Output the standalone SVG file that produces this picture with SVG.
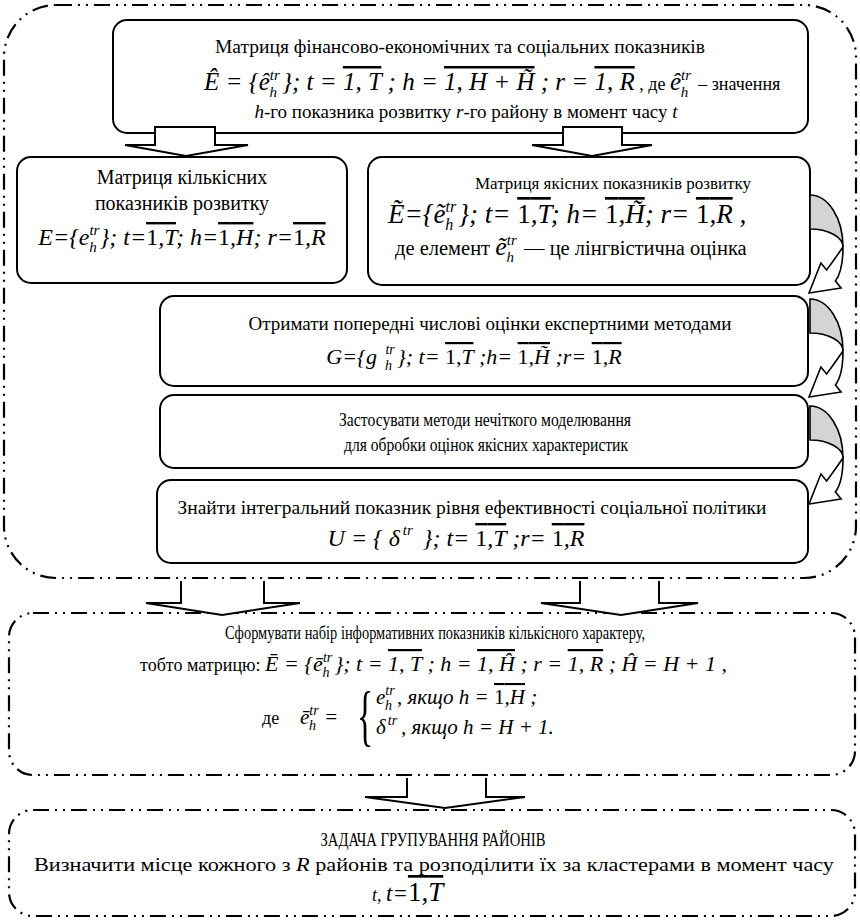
<svg xmlns="http://www.w3.org/2000/svg" width="860" height="920" viewBox="0 0 860 920">
<style>
text { font-family: 'Liberation Serif', 'Times New Roman', serif; fill: #000; font-size: 19px; }
.m { font-style: italic; }
.n { font-style: normal; }
.u { font-style: normal; }
.i { font-style: italic; }
.ov { text-decoration: overline; }
.box { fill: #fff; stroke: #000; stroke-width: 2; }
.dd { fill: none; stroke: #000; stroke-width: 2.2; stroke-dasharray: 16 6 2 6 2 6; }
.ba { fill: #fff; stroke: #000; stroke-width: 2; }
.crs { fill: #d4d4d4; stroke: #000; stroke-width: 1.6; }
.frt { fill: #fff; stroke: #000; stroke-width: 1.6; stroke-linejoin: miter; }
</style>
<defs>
<g id="curv">
<path class="crs" d="M810,0 A33,52 0 0 1 843,52 A33,18 0 0 0 810,34 Z"/>
<path class="frt" d="M843,52 Q843,76 835.4,86 L841.1,93 L809,98 L820.9,68 L826.6,75 Q834,65 843,52 Z"/>
</g>
</defs>

<g id="outer-main"><rect class="dd" x="4" y="5" width="852" height="573" rx="52"/></g>

<g id="n-top">
<rect class="box" x="113" y="20" width="695" height="113" rx="14"/>
<text x="460" y="53" style="font-size:19.5px" text-anchor="middle">Матриця фінансово-економічних та соціальних показників</text>
<text class="m" x="204" y="90" style="font-size:25px">Ê = {ê<tspan style="font-size:15px" dy="-10">tr</tspan><tspan style="font-size:15px" dx="-10" dy="17">h</tspan><tspan dx="5" dy="-7">}; t = </tspan><tspan class="ov">1, T</tspan> ; h = <tspan class="ov">1, H + H̃</tspan> ; r = <tspan class="ov">1, R</tspan><tspan class="n" style="font-size:18px"> , де </tspan>ê<tspan style="font-size:15px" dy="-10">tr</tspan><tspan style="font-size:15px" dx="-10" dy="17">h</tspan><tspan class="n" style="font-size:18px" dx="10" dy="-7">– значення</tspan></text>
<text x="466" y="118" style="font-size:19px" text-anchor="middle"><tspan class="i">h</tspan>-го показника розвитку <tspan class="i">r</tspan>-го району в момент часу <tspan class="i">t</tspan></text>
</g>

<g id="n-quant">
<rect class="box" x="17" y="157" width="330" height="126" rx="14"/>
<text x="182" y="184" style="font-size:20px" text-anchor="middle">Матриця кількісних</text>
<text x="182" y="210" style="font-size:20px" text-anchor="middle">показників розвитку</text>
<text class="m" x="182" y="245" style="font-size:24px" text-anchor="middle">E={e<tspan style="font-size:15px" dy="-10">tr</tspan><tspan style="font-size:15px" dx="-10" dy="17">h</tspan><tspan dx="3" dy="-7">}; t=</tspan><tspan class="ov"><tspan class="u">1</tspan>,T</tspan>; h=<tspan class="ov"><tspan class="u">1</tspan>,H</tspan>; r=<tspan class="ov"><tspan class="u">1</tspan>,R</tspan></text>
</g>

<g id="n-qual">
<rect class="box" x="368" y="157" width="442" height="128" rx="14"/>
<text x="613" y="189" style="font-size:17px" text-anchor="middle">Матриця якісних показників розвитку</text>
<text class="m" x="388" y="223" style="font-size:27px">Ẽ={ẽ<tspan style="font-size:16px" dy="-11">tr</tspan><tspan style="font-size:16px" dx="-10.7" dy="18">h</tspan><tspan dx="5" dy="-7">}; t= </tspan><tspan class="ov"><tspan class="u">1</tspan>,T</tspan>; h= <tspan class="ov"><tspan class="u">1</tspan>,H̃</tspan>; r= <tspan class="ov"><tspan class="u">1</tspan>,R</tspan> ,</text>
<text x="395" y="255" style="font-size:20.5px">де елемент <tspan class="m" style="font-size:26px">ẽ</tspan><tspan class="i" style="font-size:15px" dy="-10">tr</tspan><tspan class="i" style="font-size:15px" dx="-10" dy="17">h</tspan><tspan dx="10" dy="-7">— це лінгвістична оцінка</tspan></text>
</g>

<g id="n-expert">
<rect class="box" x="160" y="296" width="648" height="90" rx="14"/>
<text x="490" y="330" style="font-size:19px" text-anchor="middle">Отримати попередні числові оцінки експертними методами</text>
<text class="m" x="474" y="364" style="font-size:22px" text-anchor="middle">G={g <tspan style="font-size:14px" dx="3" dy="-10">tr</tspan><tspan style="font-size:14px" dx="-9.5" dy="16">h</tspan><tspan dx="5" dy="-6">}; t= </tspan><tspan class="ov"><tspan class="u">1</tspan>,T</tspan> ;h= <tspan class="ov"><tspan class="u">1</tspan>,H̃</tspan> ;r= <tspan class="ov"><tspan class="u">1</tspan>,R</tspan></text>
</g>

<g id="n-fuzzy">
<rect class="box" x="160" y="395" width="648" height="73" rx="14"/>
<text x="485" y="426" style="font-size:18.5px" text-anchor="middle" textLength="292" lengthAdjust="spacingAndGlyphs">Застосувати методи нечіткого моделювання</text>
<text x="486" y="451" style="font-size:18.5px" text-anchor="middle" textLength="284" lengthAdjust="spacingAndGlyphs">для обробки оцінок якісних характеристик</text>
</g>

<g id="n-integral">
<rect class="box" x="157" y="480" width="651" height="83" rx="14"/>
<text x="472" y="514" style="font-size:19.5px" text-anchor="middle">Знайти інтегральний показник рівня ефективності соціальної політики</text>
<text class="m" x="456" y="546" style="font-size:24px" text-anchor="middle">U  = { δ<tspan style="font-size:15px" dx="3" dy="-11">tr</tspan><tspan dx="4" dy="11"> }; t= </tspan><tspan class="ov"><tspan class="u">1</tspan>,T</tspan> ;r= <tspan class="ov"><tspan class="u">1</tspan>,R</tspan></text>
</g>

<g id="n-form">
<rect class="dd" x="9" y="613" width="846" height="162" rx="24"/>
<text x="435" y="639" style="font-size:18px" text-anchor="middle" textLength="420" lengthAdjust="spacingAndGlyphs">Сформувати набір інформативних показників кількісного характеру,</text>
<text x="140" y="671" style="font-size:18px">тобто матрицю: <tspan class="m" style="font-size:22px">Ē = {ē</tspan><tspan class="i" style="font-size:14px" dy="-9">tr</tspan><tspan class="i" style="font-size:14px" dx="-9.5" dy="15">h</tspan><tspan class="m" style="font-size:22px" dx="5" dy="-6">}; t = <tspan class="ov">1, T</tspan> ; h = <tspan class="ov">1, Ĥ</tspan> ; r = <tspan class="ov">1, R</tspan> ; Ĥ = H + 1 ,</tspan></text>
<text x="262" y="724" style="font-size:18px">де</text>
<text class="m" x="300" y="724" style="font-size:21px">ē<tspan style="font-size:14px" dy="-9">tr</tspan><tspan style="font-size:14px" dx="-9.5" dy="15">h</tspan><tspan dx="8" dy="-6">=</tspan></text>
<text transform="translate(357,738) scale(0.5,1)" style="font-size:68px">{</text>
<text class="m" x="376" y="704" style="font-size:21px">e<tspan style="font-size:14px" dy="-9">tr</tspan><tspan style="font-size:14px" dx="-9.5" dy="15">h</tspan><tspan dx="5" dy="-6">, якщо   h = </tspan><tspan class="ov"><tspan class="u">1</tspan>,H</tspan> ;</text>
<text class="m" x="376" y="734" style="font-size:21px">δ<tspan style="font-size:14px" dx="2" dy="-9">tr</tspan><tspan dx="4" dy="9">, якщо   h = H + 1.</tspan></text>
</g>

<g id="n-task">
<rect class="dd" x="9" y="810" width="846" height="106" rx="24"/>
<text x="433" y="846" style="font-size:19px" text-anchor="middle" textLength="225" lengthAdjust="spacingAndGlyphs">ЗАДАЧА ГРУПУВАННЯ РАЙОНІВ</text>
<text x="434" y="871" style="font-size:19.5px" text-anchor="middle" textLength="800" lengthAdjust="spacingAndGlyphs">Визначити місце кожного з <tspan class="i">R</tspan> районів та розподілити їх за кластерами в момент часу</text>
<text class="m" x="372" y="901" style="font-size:18px">t,  <tspan style="font-size:23px">t=</tspan><tspan class="ov u" style="font-size:27px">1,<tspan class="i">T</tspan></tspan></text>
</g>

<g id="connectors">
<path class="ba" d="M155,127 V145 H125 L186,156 L248,145 H215 V127 Z"/>
<path class="ba" d="M563,127 V145 H532 L592,156 L652,145 H622 V127 Z"/>
<path class="ba" d="M181,581 V603 H146 L222,615 L300,603 H264 V581"/>
<path class="ba" d="M580,581 V603 H541 L621,615 L698,603 H659 V581"/>
<path class="ba" d="M407,778 V797 H365 L445,808 L525,797 H486 V778"/>
<use href="#curv" y="195"/>
<use href="#curv" y="299"/>
<use href="#curv" y="406"/>
</g>
</svg>
